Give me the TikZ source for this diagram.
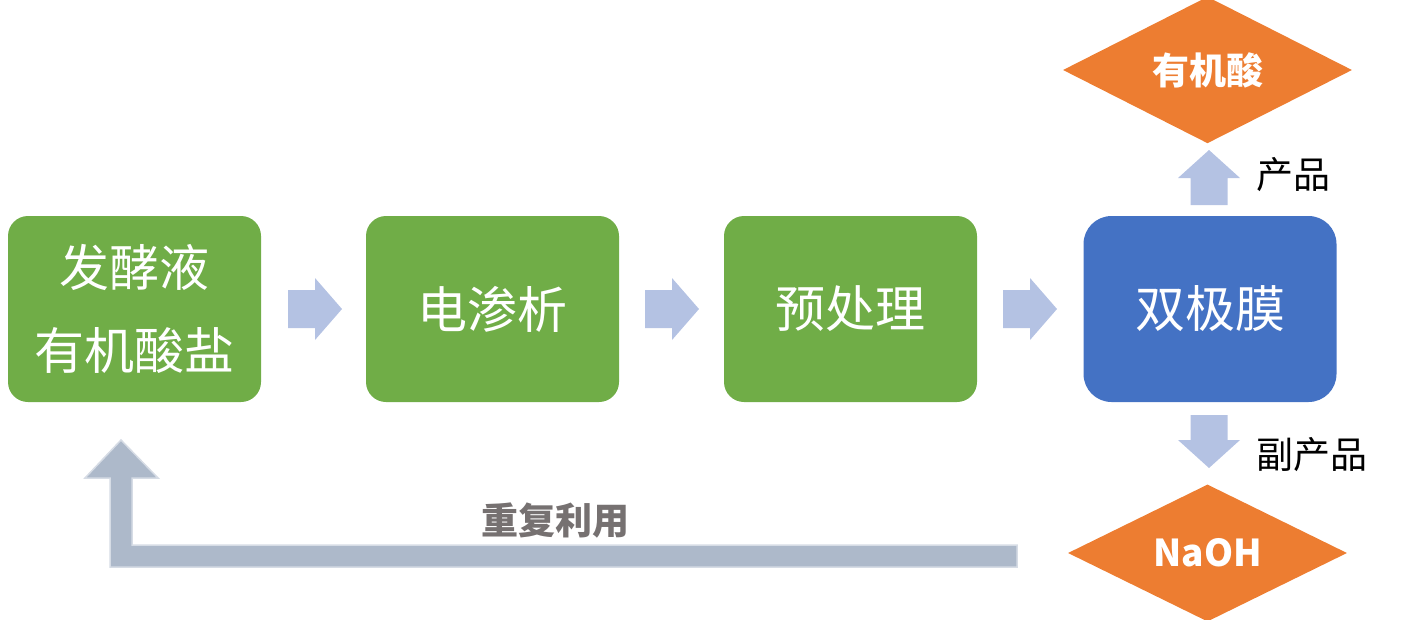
\documentclass[tikz,border=0pt]{standalone}
\usepackage{fontspec}
\setmainfont{Noto Sans CJK SC}
\usetikzlibrary{shapes.geometric}
\definecolor{boxgreen}{HTML}{70AD47}
\definecolor{boxblue}{HTML}{4472C4}
\definecolor{diaorange}{HTML}{ED7D31}
\definecolor{arrowblue}{HTML}{B4C2E3}
\definecolor{loopgray}{HTML}{ADB9CA}
\definecolor{loopedge}{HTML}{D6DCE5}
\definecolor{txtgray}{HTML}{767171}
\tikzset{
  procbox/.style={rectangle, rounded corners=20pt, fill=boxgreen, minimum width=253pt, minimum height=186pt, inner sep=0pt, text=white, align=center, font=\fontsize{50}{83}\selectfont},
  blockarrow/.style={fill=arrowblue},
  outdia/.style={diamond, fill=diaorange, inner sep=0pt, text=white, font=\fontsize{37}{40}\selectfont\bfseries},
  lbl/.style={font=\fontsize{37}{40}\selectfont, text=black, anchor=west, inner sep=0pt}
}
\begin{document}
\begin{tikzpicture}[x=1pt,y=-1pt]
\useasboundingbox (0,0) rectangle (1410,619);
% process boxes
\node[procbox] (b1) at (134.5,309) {发酵液\\有机酸盐};
\node[procbox] (b2) at (492.5,309) {电渗析};
\node[procbox] (b3) at (850.5,309) {预处理};
\node[procbox, fill=boxblue, rounded corners=28pt] (b4) at (1210,309) {双极膜};
% right block arrows
\foreach \x in {288,645,1003}{
  \fill[blockarrow] (\x,290) -- (\x+27,290) -- (\x+27,278) -- (\x+54,309) -- (\x+27,340) -- (\x+27,328) -- (\x,328) -- cycle;
}
% up arrow
\fill[blockarrow] (1190.5,205) -- (1190.5,178) -- (1178,178) -- (1209,150) -- (1240,178) -- (1227.5,178) -- (1227.5,205) -- cycle;
% down arrow
\fill[blockarrow] (1190.5,415) -- (1190.5,440) -- (1178,440) -- (1209,468) -- (1240,440) -- (1227.5,440) -- (1227.5,415) -- cycle;
% output diamonds
\node[outdia, minimum width=289pt, minimum height=135pt] (acid) at (1207.5,70) {有机酸};
\node[outdia, minimum width=279pt, minimum height=127pt] (naoh) at (1207.5,553) {NaOH};
% labels
\node[lbl] (l1) at (1256,175) {产品};
\node[lbl] (l2) at (1256,455) {副产品};
% recycle arrow
\filldraw[fill=loopgray, draw=loopedge, line width=1.5pt, line join=miter]
  (110,567) -- (1017,567) -- (1017,545) -- (132,545) -- (132,478) -- (158,478) -- (121,440) -- (85,478) -- (110,478) -- cycle;
\node[font=\fontsize{37}{40}\selectfont\bfseries, text=txtgray, inner sep=0pt] (reuse) at (555,521) {重复利用};
\end{tikzpicture}
\end{document}
